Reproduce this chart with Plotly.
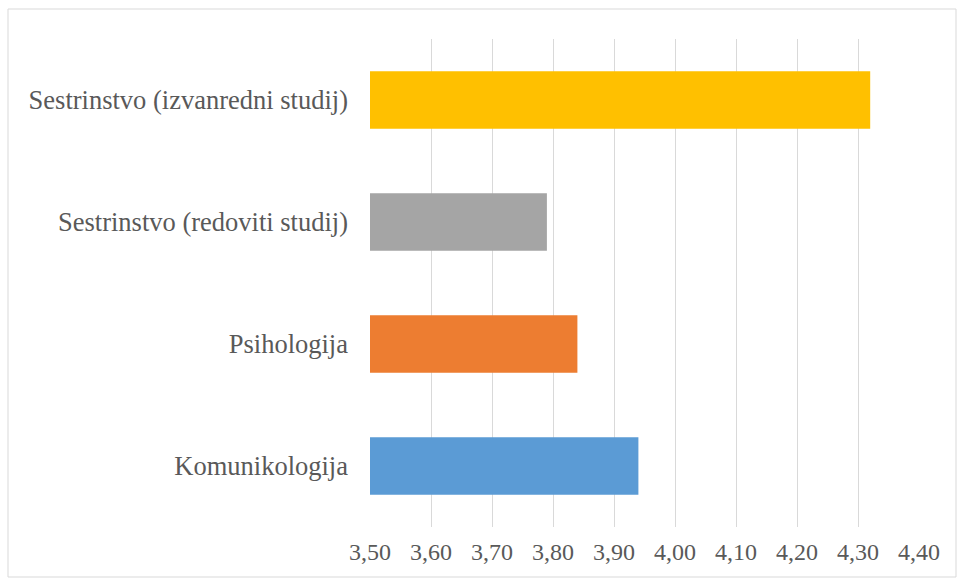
import plotly.graph_objects as go

categories = ["Komunikologija", "Psihologija", "Sestrinstvo (redoviti studij)", "Sestrinstvo (izvanredni studij)"]
values = [3.94, 3.84, 3.79, 4.32]
colors = ["#5B9BD5", "#ED7D31", "#A5A5A5", "#FFC000"]
tick_vals = [3.5, 3.6, 3.7, 3.8, 3.9, 4.0, 4.1, 4.2, 4.3, 4.4]
tick_text = ["3,50", "3,60", "3,70", "3,80", "3,90", "4,00", "4,10", "4,20", "4,30", "4,40"]

base_val = 3.5
fig = go.Figure(go.Bar(
    x=[v - base_val for v in values], y=categories, orientation="h", base=base_val,
    marker=dict(color=colors, line=dict(width=0)),
))

fig.update_layout(
    width=957, height=578,
    margin=dict(l=370, r=38, t=39, b=51),
    paper_bgcolor="white", plot_bgcolor="white",
    font=dict(family="Liberation Serif", color="#595959", size=24),
    bargap=0.53,
    showlegend=False,
    xaxis=dict(range=[3.5, 4.4], tickvals=tick_vals, ticktext=tick_text,
               showgrid=True, gridcolor="#D9D9D9", gridwidth=1,
               zeroline=False, showline=False, ticks="", ticklabelstandoff=8,
               tickfont=dict(size=24, family="Liberation Serif")),
    yaxis=dict(showgrid=False, zeroline=False, showline=False, ticks="",
               ticklabelstandoff=21, tickfont=dict(size=26.5, family="Liberation Serif")),
    shapes=[dict(type="rect", xref="paper", yref="paper",
                 x0=-362/549, x1=(956-370)/549, y0=-(577-527)/488, y1=(527-9)/488,
                 line=dict(color="#D9D9D9", width=1), fillcolor="rgba(0,0,0,0)", layer="below")],
)

fig.write_html("out.html", config={"displayModeBar": False},
               post_script="document.body.style.margin='0px';")
